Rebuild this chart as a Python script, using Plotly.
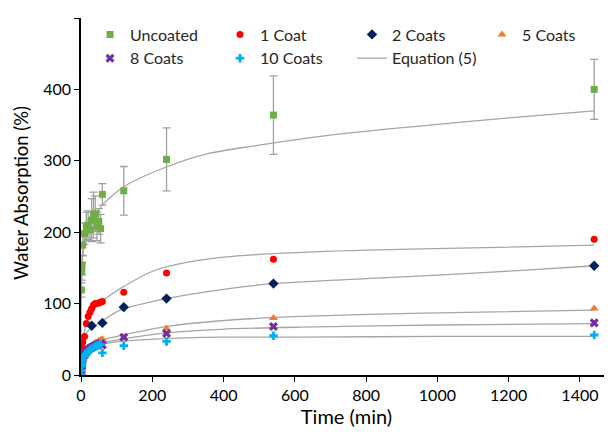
import plotly.graph_objects as go

# ---- data ----
t_unc = [1, 2, 3, 5, 10, 15, 20, 25, 30, 35, 40, 45, 50, 55, 60, 120, 240, 540, 1440]
y_unc = [119, 145, 154, 182, 198, 208, 210, 203, 217, 224, 226, 208, 215, 205, 253, 258, 302, 364, 400]
e_unc = [10, 12, 14, 15, 15, 20, 20, 15, 30, 32, 25, 20, 18, 20, 15, 34, 44, 55, 42]

t_early = [0, 1, 2, 3, 5, 10, 15, 20, 25, 30, 35, 40, 45, 50, 55, 60, 120, 240, 540, 1440]
y_c1 = [10, 20, 28, 38, 46, 54, 72, 82, 88, 93, 98, 100, 100, 101, 102, 103, 116, 143, 162, 190]
t_c2 = [0, 30, 60, 120, 240, 540, 1440]
y_c2 = [0, 69, 73, 95, 107, 128, 153]
y_c5 = [0, 8, 14, 18, 24, 30, 34, 37, 39, 41, 43, 45, 46, 48, 49, 50, 53, 65, 80, 93]
y_c8 = [0, 7, 12, 16, 22, 28, 32, 35, 37, 39, 40, 41, 42, 43, 44, 42, 53, 58, 68, 73]
y_c10 = [0, 6, 12, 16, 20, 26, 30, 33, 35, 37, 38, 40, 41, 42, 43, 31, 41, 47, 55, 56]

# Equation (5) curves
ct_unc = [0, 1, 5, 10, 20, 46, 60, 121, 243, 356, 487, 700, 935, 1200, 1440]
cy_unc = [0, 120, 170, 185, 200, 228, 238, 264, 292, 310, 321, 336, 348, 360, 370]
ct_c1 = [0, 2, 5, 10, 20, 30, 45, 68, 110, 204, 300, 400, 540, 800, 1100, 1440]
cy_c1 = [0, 25, 45, 62, 80, 90, 99, 107, 121, 146, 158, 165, 170, 175, 178, 182]
ct_c2 = [0, 3, 8, 18, 37, 60, 110, 240, 400, 540, 800, 1039, 1250, 1440]
cy_c2 = [0, 30, 48, 61, 68, 76, 91, 107, 120, 128, 135, 141, 147, 153]
ct_c5 = [0, 2, 5, 10, 20, 40, 60, 110, 241, 392, 617, 1000, 1440]
cy_c5 = [0, 15, 25, 32, 38, 45, 49, 55, 68, 76, 82, 87, 91]
ct_c8 = [0, 2, 5, 10, 20, 40, 60, 110, 241, 392, 617, 1000, 1440]
cy_c8 = [0, 14, 23, 30, 36, 42, 45, 50, 59, 64, 67, 70, 72]
ct_c10 = [0, 2, 5, 10, 20, 40, 60, 110, 241, 392, 617, 1000, 1440]
cy_c10 = [0, 14, 22, 29, 35, 40, 43, 47, 51, 53, 53, 54, 54]

x_ticks = [0, 200, 400, 600, 800, 1000, 1200, 1400]
y_ticks = [0, 100, 200, 300, 400, 500]
x_title = "Time (min)"
y_title = "Water Absorption (%)"

FONT = "Lato"
CURVE = "#A6A6A6"

fig = go.Figure()

curves = [(ct_unc, cy_unc), (ct_c1, cy_c1), (ct_c2, cy_c2),
          (ct_c5, cy_c5), (ct_c8, cy_c8), (ct_c10, cy_c10)]
for i, (cx, cy) in enumerate(curves):
    fig.add_trace(go.Scatter(
        x=cx, y=cy, mode="lines", name="Equation (5)",
        line=dict(color=CURVE, width=1.3, shape="spline", smoothing=0.8),
        showlegend=(i == 0), legend="legend3", legendrank=2,
        hoverinfo="skip"))

fig.add_trace(go.Scatter(
    x=t_unc, y=y_unc, mode="markers", name="Uncoated",
    marker=dict(symbol="square", size=7, color="#70AD47"),
    error_y=dict(type="data", array=e_unc, visible=True,
                 color="#A0A0A0", thickness=1.3, width=4),
    legend="legend", legendrank=1))
fig.add_trace(go.Scatter(
    x=t_early, y=y_c1, mode="markers", name="1 Coat",
    marker=dict(symbol="circle", size=7, color="#FF0000"),
    legend="legend2", legendrank=1))
fig.add_trace(go.Scatter(
    x=t_c2, y=y_c2, mode="markers", name="2 Coats",
    marker=dict(symbol="diamond", size=8, color="#002060"),
    legend="legend3", legendrank=1))
fig.add_trace(go.Scatter(
    x=t_early, y=y_c5, mode="markers", name="5 Coats",
    marker=dict(symbol="triangle-up", size=8, color="#ED7D31"),
    legend="legend4", legendrank=1))
fig.add_trace(go.Scatter(
    x=t_early, y=y_c8, mode="markers", name="8 Coats",
    marker=dict(symbol="x", size=8, color="#7030A0"),
    legend="legend", legendrank=2))
fig.add_trace(go.Scatter(
    x=t_early, y=y_c10, mode="markers", name="10 Coats",
    marker=dict(symbol="cross", size=7, color="#00B0F0"),
    legend="legend2", legendrank=2))

legend_common = dict(orientation="v", xref="container", yref="container",
                     xanchor="left", yanchor="top", y=1 - 9.5 / 424,
                     font=dict(family=FONT, size=16, color="#262626"),
                     bgcolor="rgba(0,0,0,0)", traceorder="normal",
                     tracegroupgap=0)

# page body has an 8px margin, so the figure is sized to fit the window
fig.update_layout(
    width=604, height=424,
    margin=dict(l=73, r=0, t=10, b=57, autoexpand=False),
    paper_bgcolor="white", plot_bgcolor="white",
    font=dict(family=FONT, size=16, color="#262626"),
    legend=dict(x=82 / 604, **legend_common),
    legend2=dict(x=212 / 604, **legend_common),
    legend3=dict(x=344 / 604, **legend_common),
    legend4=dict(x=474 / 604, **legend_common),
    showlegend=True,
    annotations=[dict(text=y_title, xref="paper", yref="paper",
                      x=-60 / 531, y=0.51, xanchor="center", yanchor="middle",
                      textangle=-90, showarrow=False,
                      font=dict(family=FONT, size=18.5, color="#000000"))],
)
fig.update_xaxes(
    range=[0, 1490], tickvals=x_ticks, ticktext=[str(v) for v in x_ticks],
    showgrid=False, zeroline=False, showline=True, linecolor="#000000", linewidth=1.5,
    ticks="outside", ticklen=5, tickcolor="#000000", tickwidth=1,
    tickfont=dict(family=FONT, size=16, color="#000000"),
    title=dict(text=x_title, font=dict(family=FONT, size=20, color="#000000"), standoff=4),
    automargin=False,
)
fig.update_yaxes(
    range=[0, 500], tickvals=y_ticks, ticktext=[str(v) for v in y_ticks],
    showgrid=False, zeroline=False, showline=True, linecolor="#000000", linewidth=1.5,
    ticks="outside", ticklen=5, tickcolor="#000000", tickwidth=1,
    tickfont=dict(family=FONT, size=16, color="#000000"),
    automargin=False,
)

fig.write_html("out.html")
